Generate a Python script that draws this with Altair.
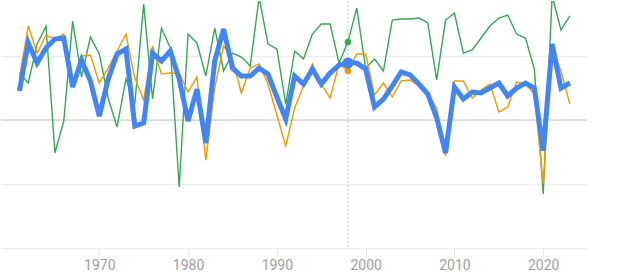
import altair as alt
import pandas as pd

years = list(range(1961, 2024))

blue = [2.27, 6.02, 4.45, 5.63, 6.33, 6.41, 2.58, 4.69, 3.05, 0.31,
        3.20, 5.16, 5.55, -0.47, -0.23, 5.23, 4.61, 5.39, 3.20, -0.08,
        2.42, -1.80, 4.61, 7.11, 4.06, 3.44, 3.44, 4.06, 3.59, 1.80,
        0.08, 3.44, 2.81, 3.98, 2.81, 3.67, 4.30, 4.45, 4.45, 3.98,
        1.02, 1.64, 2.66, 3.75, 3.52, 2.81, 2.03, 0.16, -2.58, 2.58,
        1.64, 2.19, 2.11, 2.50, 2.89, 1.88, 2.50, 2.89, 2.50, -2.40,
        5.94, 2.50, 2.89]

orange = [3.28, 7.34, 5.23, 6.64, 6.33, 6.72, 2.89, 5.00, 5.08, 2.89,
          4.06, 5.39, 6.72, 3.28, 1.56, 5.78, 3.59, 3.67, 3.67, 2.19,
          3.36, -3.13, 2.50, 5.78, 4.77, 2.11, 4.06, 4.38, 2.81, 0.39,
          -2.03, 0.94, 2.66, 4.38, 2.81, 1.72, 4.38, 3.83, 5.16, 5.16,
          1.95, 2.89, 1.80, 3.05, 3.13, 2.66, 2.03, 0.94, -2.81, 3.05,
          3.05, 1.72, 2.34, 2.81, 0.63, 1.02, 2.97, 2.81, 2.03, -5.00,
          5.63, 3.83, 1.25]

green = [3.67, 2.89, 5.94, 7.34, -2.58, -0.08, 7.73, 3.36, 6.48, 5.16,
         1.72, -0.55, 3.20, 1.25, 9.06, 1.64, 7.19, 5.63, -5.23, 6.72,
         6.02, 3.44, 7.19, 3.83, 5.23, 4.92, 4.22, 9.60, 5.94, 5.55,
         1.25, 5.39, 4.77, 6.72, 7.50, 7.50, 4.45, 6.09, 8.75, 4.06,
         4.77, 3.83, 7.81, 7.89, 7.89, 7.97, 7.58, 3.13, 7.81, 8.36,
         5.23, 5.47, 6.41, 7.34, 7.97, 8.20, 6.72, 6.41, 3.98, -5.78,
         9.70, 7.03, 8.13]

series_names = ["green", "orange", "blue"]
series_colors = ["#34A853", "#F29900", "#4285F4"]
highlight_year = 1998
x_ticks = [1970, 1980, 1990, 2000, 2010, 2020]
y_grid = [-10, -5, 0, 5]

rows = []
for name, vals in zip(series_names, [green, orange, blue]):
    for yr, v in zip(years, vals):
        rows.append({"year": yr, "value": v, "series": name})
df = pd.DataFrame(rows)

xscale = alt.Scale(domain=[1958.93, 2024.93], nice=False, zero=False)
yscale = alt.Scale(domain=[-10, 9.3], nice=False, zero=False)
cscale = alt.Scale(domain=series_names, range=series_colors)

xax = alt.Axis(values=x_ticks, format="d", title=None, grid=False, domain=False,
               tickColor="#e6e6e6", tickSize=8, labelPadding=2,
               labelColor="#9e9e9e", labelFontSize=14, labelFont="Roboto")
yax = alt.Axis(values=y_grid, labels=False, ticks=False, domain=False, title=None,
               grid=True, gridColor="#eeeeee", gridWidth=1)

base = alt.Chart(df)

thin = base.transform_filter(alt.datum.series != "blue").mark_line(
    strokeWidth=1.4, clip=True
).encode(
    x=alt.X("year:Q", scale=xscale, axis=xax),
    y=alt.Y("value:Q", scale=yscale, axis=yax),
    color=alt.Color("series:N", scale=cscale, legend=None),
    detail="series:N",
)

thick = base.transform_filter(alt.datum.series == "blue").mark_line(
    strokeWidth=5, clip=True
).encode(
    x=alt.X("year:Q", scale=xscale),
    y=alt.Y("value:Q", scale=yscale),
    color=alt.Color("series:N", scale=cscale, legend=None),
)

zero_rule = alt.Chart(pd.DataFrame({"v": [0]})).mark_rule(
    color="#c8c8c8", strokeWidth=1
).encode(y=alt.Y("v:Q", scale=yscale))

vrule = alt.Chart(pd.DataFrame({"year": [highlight_year]})).mark_rule(
    color="#c0c0c0", strokeWidth=1, strokeDash=[2, 2]
).encode(x=alt.X("year:Q", scale=xscale))

hl = df[df["year"] == highlight_year]
dots_small = alt.Chart(hl).transform_filter(alt.datum.series != "blue").mark_circle(
    size=42, opacity=1
).encode(
    x=alt.X("year:Q", scale=xscale),
    y=alt.Y("value:Q", scale=yscale),
    color=alt.Color("series:N", scale=cscale, legend=None),
)
dots_big = alt.Chart(hl).transform_filter(alt.datum.series == "blue").mark_circle(
    size=125, opacity=1
).encode(
    x=alt.X("year:Q", scale=xscale),
    y=alt.Y("value:Q", scale=yscale),
    color=alt.Color("series:N", scale=cscale, legend=None),
)

chart = alt.layer(zero_rule, vrule, thin, thick, dots_small, dots_big).properties(
    width=586, height=247, padding=0, background="white"
).configure_view(stroke=None)

chart.save("out.html", embed_options={"renderer": "svg", "actions": False})
